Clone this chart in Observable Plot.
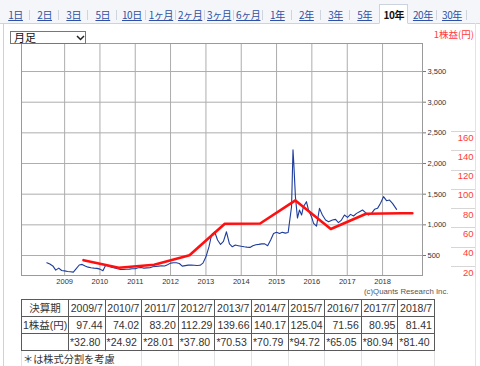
<!DOCTYPE html>
<html><head><meta charset="utf-8">
<script src="https://cdn.jsdelivr.net/npm/d3@7"></script>
<script src="https://cdn.jsdelivr.net/npm/@observablehq/plot@0.6"></script>
<style>
html,body{margin:0;padding:0;width:480px;height:366px;overflow:hidden;background:#fff;font-family:"Noto Sans CJK JP","Liberation Sans",sans-serif;}
#wrap{position:relative;width:480px;height:366px;overflow:hidden;}
#chart{position:absolute;left:0;top:0;}
#tabbar{position:absolute;left:0;top:0;width:480px;height:23px;background:#f4f6fa;border-bottom:1px solid #cbd3df;}
#tabs{position:absolute;left:1px;top:0;height:23px;display:flex;}
.tab{position:relative;width:29.1px;height:23px;text-align:center;font-size:10px;line-height:14px;padding-top:8px;box-sizing:border-box;color:#2f51a5;text-decoration:underline;white-space:nowrap;letter-spacing:-0.4px;}
.tab.sep::after{content:"";position:absolute;right:0;top:10px;width:1px;height:10px;background:#cfd5de;}
.tab.active{background:#fff;color:#111;font-weight:bold;text-decoration:none;border:1px solid #cbd3df;border-bottom:1px solid #fff;height:20px;margin-top:4px;padding-top:3px;}
#lborder{position:absolute;left:3px;top:23px;width:1px;height:343px;background:#ccd3dd;}
#rborder{position:absolute;left:475px;top:23px;width:1px;height:343px;background:#dfe4ec;}
#dd{position:absolute;left:10px;top:31px;width:74px;height:11px;border:1px solid #777;background:#fff;}
#dd span{position:absolute;left:3px;top:-2px;font-size:11px;line-height:14px;color:#111;}
#epslabel{position:absolute;right:6px;top:28px;font-size:9.5px;line-height:12px;color:#ff3b3b;}
#copy{position:absolute;left:364px;top:287px;font-family:"Liberation Sans",sans-serif;font-size:7.8px;line-height:10px;color:#555;}
table{border-collapse:collapse;table-layout:fixed;font-family:"Liberation Sans","Noto Sans CJK JP",sans-serif;font-size:10.5px;color:#333;}
#tbl{position:absolute;left:21px;top:299px;}
#tbl td{border:1px solid #5a5a5a;height:16px;padding:0 2px;line-height:14px;white-space:nowrap;overflow:hidden;}
#tbl td.num{text-align:right;}
#tbl td.hd{text-align:center;padding:0 1px;}
#tbl td.adj{text-align:left;padding:0 1px;}
#tbl td.lbl{text-align:left;padding:0 1px;}
#faint{position:absolute;left:21px;top:351px;}
#faint td{border-left:1px solid #e2e2e2;border-right:1px solid #e2e2e2;height:20px;padding:0;}
#note{position:absolute;left:23px;top:352px;font-size:10.2px;line-height:14px;color:#333;background:#fff;}
</style>
</head><body>
<div id="wrap">
<div id="chart"></div>
<div id="tabbar"><div id="tabs"></div></div>
<div id="lborder"></div><div id="rborder"></div>
<div id="dd"><span>月足</span><svg style="position:absolute;left:65px;top:3px" width="9" height="6"><path d="M1 1 L4.5 4.5 L8 1" fill="none" stroke="#222" stroke-width="1.5"/></svg></div>
<div id="epslabel">1株益(円)</div>
<div id="copy">(c)Quants Research Inc.</div>
<table id="faint"><tr id="faintrow"></tr></table>
<table id="tbl"></table>
<div id="note">＊は株式分割を考慮</div>
</div>
<script>
// ---- data ----
const tabLabels = ["1日","2日","3日","5日","10日","1ヶ月","2ヶ月","3ヶ月","6ヶ月","1年","2年","3年","5年","10年","20年","30年"];
const activeTab = "10年";

const fiscalPeriods = ["2009/7","2010/7","2011/7","2012/7","2013/7","2014/7","2015/7","2016/7","2017/7","2018/7"];
const epsReported = [97.44,74.02,83.20,112.29,139.66,140.17,125.04,71.56,80.95,81.41];
const epsAdjusted = [32.80,24.92,28.01,37.80,70.53,70.79,94.72,65.05,80.94,81.40];

const epsLineDates = ["2009-07-15","2010-07-15","2011-07-15","2012-07-15","2013-07-15","2014-07-15","2015-07-15","2016-07-15","2017-07-15","2018-07-15","2018-11-05"];
const epsLineValues = [32.80,24.92,28.01,37.80,70.53,70.79,94.72,65.05,80.94,81.40,81.40];

const priceDates = [
"2008-07-01","2008-08-01","2008-09-01","2008-10-01","2008-11-01","2008-12-01",
"2009-01-01","2009-02-01","2009-03-01","2009-04-01","2009-05-01","2009-06-01","2009-07-01","2009-08-01","2009-09-01","2009-10-01","2009-11-01","2009-12-01",
"2010-01-01","2010-02-01","2010-03-01","2010-04-01","2010-05-01","2010-06-01","2010-07-01","2010-08-01","2010-09-01","2010-10-01","2010-11-01","2010-12-01",
"2011-01-01","2011-02-01","2011-03-01","2011-04-01","2011-05-01","2011-06-01","2011-07-01","2011-08-01","2011-09-01","2011-10-01","2011-11-01","2011-12-01",
"2012-01-01","2012-02-01","2012-03-01","2012-04-01","2012-05-01","2012-06-01","2012-07-01","2012-08-01","2012-09-01","2012-10-01","2012-11-01","2012-12-01",
"2013-01-01","2013-02-01","2013-03-01","2013-04-01","2013-05-01","2013-06-01","2013-07-01","2013-08-01","2013-09-01","2013-10-01","2013-11-01","2013-12-01",
"2014-01-01","2014-02-01","2014-03-01","2014-04-01","2014-05-01","2014-06-01","2014-07-01","2014-08-01","2014-09-01","2014-10-01","2014-11-01","2014-12-01",
"2015-01-01","2015-02-01","2015-03-01","2015-04-01","2015-05-01","2015-06-05","2015-06-20","2015-06-28","2015-07-15","2015-08-05","2015-08-26","2015-09-17","2015-10-06","2015-11-06","2015-11-27","2015-12-28",
"2016-01-19","2016-02-18","2016-03-20","2016-04-19","2016-05-22","2016-06-22","2016-08-01","2016-09-02","2016-10-02","2016-11-02","2016-12-03",
"2017-01-04","2017-02-04","2017-03-07","2017-04-07","2017-05-08","2017-06-08","2017-07-09","2017-08-09","2017-09-09","2017-10-10","2017-11-10","2017-12-11",
"2018-01-11","2018-02-11","2018-03-14","2018-04-14","2018-05-26"];
const priceValues = [
381,360,330,262,294,255,
250,240,235,229,285,345,355,330,310,300,294,290,
278,252,343,325,310,296,285,273,272,275,278,283,
285,300,305,294,298,300,316,322,327,332,330,350,
376,381,381,370,327,335,343,343,340,338,340,376,
479,640,840,887,752,680,730,887,690,642,670,660,
650,642,636,632,660,675,681,690,690,660,752,860,
880,860,880,865,875,1296,2222,2010,1460,1111,1242,1160,1296,1378,1242,1133,
1024,980,1269,1160,1078,1051,1078,1089,1035,1078,1160,
1122,1171,1144,1187,1214,1242,1198,1160,1187,1253,1269,1351,
1460,1394,1405,1351,1253];

const yearTicks = ["2009","2010","2011","2012","2013","2014","2015","2016","2017","2018"];
const priceTicks = [500,1000,1500,2000,2500,3000,3500];
const epsTicks = [20,40,60,80,100,120,140,160];

// ---- build ----
const prices = priceDates.map((d,i) => ({date: new Date(d), value: priceValues[i]}));
const epsLine = epsLineDates.map((d,i) => ({date: new Date(d), eps: epsLineValues[i]}));
const yearDates = yearTicks.map(y => new Date(y + "-01-01"));
// secondary (EPS) axis aligned to the price axis
const epsToPrice = e => 15.72 * e - 91.3;

function epsCells(index, scales, values, dimensions) {
  const g = d3.create("svg:g");
  const y = scales.y;
  const xr = dimensions.width - dimensions.marginRight;
  for (const e of epsTicks) {
    const yy = Math.round(y(epsToPrice(e)) - 6) + 0.5;
    g.append("line").attr("x1", xr + 29).attr("x2", xr + 54)
      .attr("y1", yy).attr("y2", yy).attr("stroke", "#d6d6d6");
  }
  return g.node();
}

const chart = Plot.plot({
  width: 480, height: 295,
  marginLeft: 21, marginRight: 58, marginTop: 43, marginBottom: 20,
  style: {fontFamily: "Liberation Sans, sans-serif", fontSize: "7.5px", color: "#333", background: "transparent", overflow: "visible"},
  x: {type: "utc", domain: [new Date("2007-10-13"), new Date("2019-02-18")]},
  y: {domain: [174, 3957]},
  marks: [
    Plot.gridX(yearDates, {stroke: "#adadad", strokeOpacity: 1}),
    Plot.gridY(priceTicks, {stroke: "#adadad", strokeOpacity: 1}),
    Plot.frame({stroke: "#9a9a9a"}),
    Plot.axisX(yearDates, {tickSize: 0, tickPadding: 3, tickFormat: d3.utcFormat("%Y"), label: null}),
    Plot.axisY(priceTicks, {anchor: "right", tickSize: 3, tickPadding: 2, tickFormat: d3.format(","), stroke: "#777", label: null}),
    Plot.line(prices, {x: "date", y: "value", stroke: "#1d3c9c", strokeWidth: 1.1}),
    Plot.line(epsLine, {x: "date", y: d => epsToPrice(d.eps), stroke: "#ff1010", strokeWidth: 2.6}),
    epsCells,
    Plot.text(epsTicks, {y: d => epsToPrice(d), text: d => String(d), frameAnchor: "right", dx: 51, textAnchor: "end", fill: "#ff3b3b", fontSize: 9.5, fontFamily: "Liberation Sans, sans-serif"})
  ]
});
document.getElementById("chart").appendChild(chart);

// tabs
const tabs = document.getElementById("tabs");
tabLabels.forEach((t, i) => {
  const d = document.createElement("div");
  d.className = "tab";
  d.textContent = t;
  const next = tabLabels[i+1];
  if (t === activeTab) d.classList.add("active");
  else if (next !== activeTab) d.classList.add("sep");
  tabs.appendChild(d);
});

// table
const colW = [47].concat(fiscalPeriods.map(() => 36.6));
const tbl = document.getElementById("tbl");
const cg = document.createElement("colgroup");
colW.forEach(w => { const c = document.createElement("col"); c.style.width = w + "px"; cg.appendChild(c); });
tbl.appendChild(cg);
function row(cells) {
  const tr = document.createElement("tr");
  cells.forEach(([txt, cls]) => { const td = document.createElement("td"); td.className = cls; td.textContent = txt; tr.appendChild(td); });
  tbl.appendChild(tr);
}
row([["決算期","hd"]].concat(fiscalPeriods.map(p => [p,"hd"])));
row([["1株益(円)","lbl"]].concat(epsReported.map(v => [v.toFixed(2),"num"])));
row([["","lbl"]].concat(epsAdjusted.map(v => ["*" + v.toFixed(2),"adj"])));
tbl.style.width = colW.reduce((a,b)=>a+b,0) + "px";

const faint = document.getElementById("faint");
const fcg = document.createElement("colgroup");
colW.forEach(w => { const c = document.createElement("col"); c.style.width = w + "px"; fcg.appendChild(c); });
faint.insertBefore(fcg, faint.firstChild);
faint.style.width = colW.reduce((a,b)=>a+b,0) + "px";
const fr = document.getElementById("faintrow");
colW.forEach(() => fr.appendChild(document.createElement("td")));
</script>
</body></html>
